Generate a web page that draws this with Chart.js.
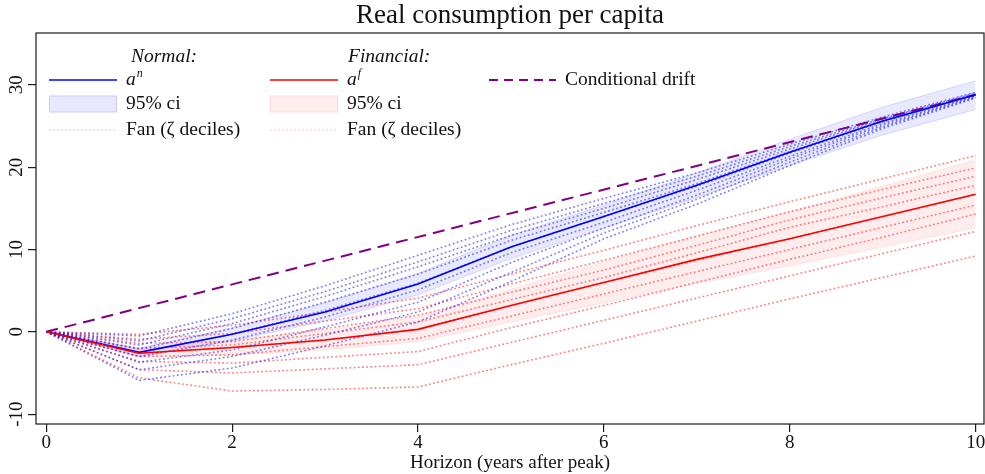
<!DOCTYPE html>
<html><head><meta charset="utf-8">
<script src="https://cdn.jsdelivr.net/npm/chart.js@4/dist/chart.umd.min.js"></script>
<style>html,body{margin:0;padding:0;background:#fff;}canvas{display:block;}</style>
</head><body>
<canvas id="c" width="985" height="474"></canvas>
<script>
// ---- data ----
const years = [0,1,2,3,4,5,6,7,8,9,10];
const xTicks = [0,2,4,6,8,10];
const yTicks = [-10,0,10,20,30];
const driftYears = [0,10];
const driftValues = [0,28.8];

const normalMean = [0,-2.5,-0.3,2.4,5.8,10.3,14.0,17.8,21.8,25.6,28.8];
const normalLo   = [0,-3.0,-1.1,1.3,4.5,8.9,12.6,16.3,20.2,23.9,27.0];
const normalHi   = [0,-2.0,0.5,3.5,7.1,11.7,15.4,19.3,23.4,27.3,30.5];

const finMean = [0,-2.6,-1.9,-1.0,0.3,3.2,6.0,8.8,11.3,14.0,16.7];
const finLo   = [0,-3.1,-2.8,-2.2,-1.2,1.2,3.5,5.9,8.0,10.3,12.6];
const finHi   = [0,-2.1,-1.0,0.2,1.8,5.2,8.5,11.7,14.6,17.7,20.9];

const normalFan = [
  [0,-5.9,-4.4,-1.7,1.2,6.1,11.3,15.5,20.2,24.7,28.4],
  [0,-4.6,-3.0,-0.4,2.4,7.2,12.0,16.1,20.6,24.9,28.5],
  [0,-3.7,-2.2,0.6,3.6,8.4,12.6,16.6,21.0,25.1,28.6],
  [0,-3.0,-1.0,1.8,5.1,9.6,13.3,17.2,21.3,25.3,28.7],
  [0,-2.5,-0.3,2.6,5.9,10.3,14.0,17.7,21.7,25.5,28.8],
  [0,-2.1,0.4,3.6,7.0,11.1,14.5,18.0,21.9,25.6,28.8],
  [0,-1.6,1.0,4.3,7.9,11.7,15.0,18.5,22.2,25.8,28.9],
  [0,-1.1,1.6,4.9,8.5,12.3,15.6,18.9,22.5,25.9,29.0],
  [0,-0.5,2.2,5.6,9.3,13.0,16.2,19.3,22.8,26.1,29.1]
];
const finFan = [
  [0,-5.6,-7.2,-7.0,-6.7,-4.0,-1.4,1.3,4.0,6.6,9.2],
  [0,-4.6,-5.0,-4.5,-4.0,-1.3,1.4,4.1,6.8,9.5,12.2],
  [0,-3.6,-3.8,-3.1,-2.4,0.5,3.2,6.0,8.8,11.5,14.3],
  [0,-3.0,-2.8,-1.8,-0.8,1.9,4.6,7.3,10.0,12.7,15.4],
  [0,-2.6,-1.9,-1.0,0.3,3.2,6.0,8.7,11.3,14.0,16.7],
  [0,-2.0,-1.6,-0.2,1.2,3.9,6.6,9.6,12.7,15.2,17.8],
  [0,-1.4,-1.2,0.4,2.0,4.8,7.5,10.5,13.6,16.3,18.9],
  [0,-0.9,-0.2,1.3,2.8,5.8,8.7,11.6,14.6,17.3,19.9],
  [0,-0.3,0.8,2.4,4.1,7.0,9.9,12.9,15.8,18.6,21.4]
];

// ---- styling ----
const SERIF = '"Liberation Serif","DejaVu Serif",serif';
const BLUE = 'rgb(0,0,255)';
const RED = 'rgb(255,0,0)';
const PURPLE = 'rgb(128,0,128)';
const pts = (xs, arr) => xs.map((x,i)=>({x:x, y:arr[i]}));

const datasets = [];
datasets.push({data:pts(years,normalLo), borderColor:'rgba(0,0,255,0.13)', borderWidth:1, pointRadius:0, fill:false, order:3});
datasets.push({data:pts(years,normalHi), borderColor:'rgba(0,0,255,0.13)', borderWidth:1, pointRadius:0, backgroundColor:'rgba(0,0,255,0.09)', fill:'-1', order:3});
datasets.push({data:pts(years,finLo), borderColor:'rgba(255,0,0,0.08)', borderWidth:1, pointRadius:0, fill:false, order:3});
datasets.push({data:pts(years,finHi), borderColor:'rgba(255,0,0,0.08)', borderWidth:1, pointRadius:0, backgroundColor:'rgba(255,0,0,0.07)', fill:'-1', order:3});
normalFan.forEach(f => datasets.push({data:pts(years,f), borderColor:'rgba(0,0,255,0.5)', borderWidth:1.6, borderDash:[1.8,2.4], pointRadius:0, fill:false, order:2}));
finFan.forEach(f => datasets.push({data:pts(years,f), borderColor:'rgba(255,0,0,0.5)', borderWidth:1.6, borderDash:[1.8,2.4], pointRadius:0, fill:false, order:2}));
datasets.push({data:pts(driftYears,driftValues), borderColor:PURPLE, borderWidth:2, borderDash:[12,7], pointRadius:0, fill:false, order:1});
datasets.push({data:pts(years,finMean), borderColor:RED, borderWidth:1.6, pointRadius:0, fill:false, order:0});
datasets.push({data:pts(years,normalMean), borderColor:BLUE, borderWidth:1.6, pointRadius:0, fill:false, order:0});

const decor = {
  id:'decor',
  afterDraw(chart){
    const ctx = chart.ctx, ca = chart.chartArea;
    const xs = chart.scales.x, ys = chart.scales.y;
    ctx.save();
    // frame
    ctx.strokeStyle = '#1a1a1a'; ctx.lineWidth = 1.2;
    ctx.strokeRect(ca.left, ca.top, ca.right-ca.left, ca.bottom-ca.top);
    ctx.fillStyle = '#111';
    // title
    ctx.font = '27px ' + SERIF; ctx.textAlign='center'; ctx.textBaseline='middle';
    ctx.fillText('Real consumption per capita', (ca.left+ca.right)/2, 16);
    // x tick labels
    ctx.font = '19px ' + SERIF; ctx.textBaseline='middle';
    xTicks.forEach(v => ctx.fillText(String(v), xs.getPixelForValue(v), 443));
    ctx.fillText('Horizon (years after peak)', (ca.left+ca.right)/2, 463);
    // y tick labels (rotated)
    yTicks.forEach(v => {
      ctx.save(); ctx.translate(17, ys.getPixelForValue(v)); ctx.rotate(-Math.PI/2);
      ctx.textAlign='center'; ctx.textBaseline='middle'; ctx.fillText(String(v),0,0); ctx.restore();
    });
    // legend
    const row1=80,row2=104,row3=130;
    const F = 19.5;
    ctx.textAlign='left'; ctx.textBaseline='middle';
    ctx.font = 'italic '+F+'px ' + SERIF;
    ctx.fillText('Normal:', 131, 57);
    ctx.fillText('Financial:', 348, 57);
    const sym = (x, y, base, sup) => {
      ctx.font = 'italic '+F+'px ' + SERIF; ctx.fillText(base, x, y);
      const w = ctx.measureText(base).width;
      ctx.font = 'italic 12px ' + SERIF; ctx.fillText(sup, x+w+1, y-6);
    };
    const line = (x1,x2,y,color,w,dash) => {
      ctx.save(); ctx.strokeStyle=color; ctx.lineWidth=w; ctx.setLineDash(dash);
      ctx.beginPath(); ctx.moveTo(x1,y); ctx.lineTo(x2,y); ctx.stroke(); ctx.restore();
    };
    const box = (x1,x2,y,fill,stroke) => {
      ctx.save(); ctx.fillStyle=fill; ctx.fillRect(x1,y-8.5,x2-x1,17);
      ctx.strokeStyle=stroke; ctx.lineWidth=1; ctx.strokeRect(x1+0.5,y-8,x2-x1-1,16); ctx.restore();
    };
    // normal column
    line(49,117,row1,BLUE,1.6,[]);
    sym(126,row1,'a','n');
    box(49,117,row2,'rgba(0,0,255,0.09)','rgba(0,0,255,0.13)');
    ctx.font=F+'px '+SERIF; ctx.fillText('95% ci',126,row2);
    line(49,117,row3,'rgba(0,0,255,0.3)',1.2,[1.5,2.5]);
    ctx.font=F+'px '+SERIF; ctx.fillText('Fan (\u03B6 deciles)',126,row3);
    // financial column
    line(270,338,row1,RED,1.6,[]);
    sym(347,row1,'a','f');
    box(270,338,row2,'rgba(255,0,0,0.07)','rgba(255,0,0,0.08)');
    ctx.font=F+'px '+SERIF; ctx.fillText('95% ci',347,row2);
    line(270,338,row3,'rgba(255,0,0,0.3)',1.2,[1.5,2.5]);
    ctx.font=F+'px '+SERIF; ctx.fillText('Fan (\u03B6 deciles)',347,row3);
    // drift
    line(489,556,row1,PURPLE,2,[9,6]);
    ctx.font=F+'px '+SERIF; ctx.fillText('Conditional drift',565,row1);
    ctx.restore();
  }
};

const axisCommon = {
  type:'linear',
  ticks:{display:false},
  border:{display:false},
  grid:{drawOnChartArea:false, drawTicks:true, tickLength:8, color:'#1a1a1a', lineWidth:1.2}
};

new Chart(document.getElementById('c'), {
  type:'line',
  data:{datasets:datasets},
  options:{
    responsive:false, animation:false, devicePixelRatio:1,
    layout:{padding:{top:33,right:1,left:0,bottom:0}},
    elements:{line:{tension:0}},
    plugins:{legend:{display:false}, title:{display:false}, tooltip:{enabled:false}},
    scales:{
      x:Object.assign({}, axisCommon, {position:'bottom', min:-0.11, max:10.09,
        afterBuildTicks:s=>{s.ticks = xTicks.map(v=>({value:v}));},
        afterFit:s=>{s.height = 50;}}),
      y:Object.assign({}, axisCommon, {position:'left', min:-11.2, max:36.3,
        afterBuildTicks:s=>{s.ticks = yTicks.map(v=>({value:v}));},
        afterFit:s=>{s.width = 36;}})
    }
  },
  plugins:[decor]
});
</script>
</body></html>
